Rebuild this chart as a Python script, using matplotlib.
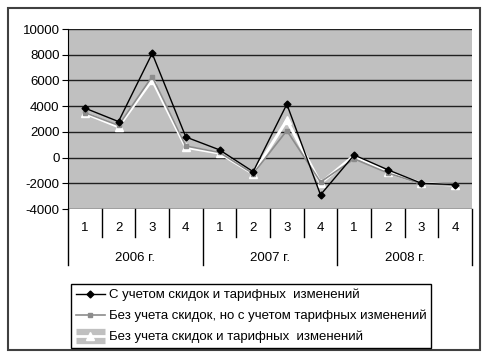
import numpy as np
import matplotlib.pyplot as plt
from matplotlib.patches import Rectangle
from matplotlib.lines import Line2D
import matplotlib.transforms as mtransforms

plt.rcParams['font.family'] = ['Liberation Sans', 'DejaVu Sans']

quarters = ['1', '2', '3', '4'] * 3
years = ['2006 г.', '2007 г.', '2008 г.']
s_full = [3850, 2800, 8100, 1600, 600, -1100, 4150, -2900, 200, -950, -2000, -2100]
s_tariff = [3500, 2500, 6300, 900, 400, -1250, 2100, -1900, -100, -1200, -2050, -2150]
s_none = [3450, 2400, 6050, 800, 350, -1250, 2900, -2000, 150, -1150, -2000, -2150]
labels = ['С учетом скидок и тарифных  изменений',
          'Без учета скидок, но с учетом тарифных изменений',
          'Без учета скидок и тарифных  изменений']

fig = plt.figure(figsize=(4.88, 3.63), dpi=100)
fig.patch.set_facecolor('white')
ax = fig.add_axes([68/488, 1-209/363, 404/488, 180/363])
ax.set_facecolor('#c0c0c0')

x = np.arange(len(s_full))
ax.plot(x, s_none, color='white', lw=2.2, marker='^', ms=6, mfc='white', mec='white', zorder=3)
ax.plot(x, s_tariff, color='#8c8c8c', lw=1.2, marker='s', ms=3, mfc='#8c8c8c', mec='#8c8c8c', zorder=4)
ax.plot(x, s_full, color='black', lw=1.0, marker='D', ms=3.5, mfc='black', zorder=5)

ax.set_xlim(-0.5, 11.5)
ax.set_ylim(-4000, 10000)
ax.set_yticks(np.arange(-4000, 10001, 2000))
ax.set_yticklabels([str(v) for v in range(-4000, 10001, 2000)])
ax.yaxis.grid(True, color='#202020', lw=1.0)
ax.set_axisbelow(True)
ax.set_xticks([])
ax.tick_params(axis='y', length=4, labelsize=9.5, pad=2)
for sp in ['top', 'right']:
    ax.spines[sp].set_visible(False)
ax.spines['left'].set_color('black')
ax.spines['bottom'].set_visible(False)

trans = mtransforms.blended_transform_factory(ax.transData, ax.transAxes)
for i in range(13):
    b = i - 0.5
    low = -0.31 if i % 4 == 0 else -0.155
    ax.plot([b, b], [0, low], color='black', lw=1.0, transform=trans, clip_on=False)
for i, q in enumerate(quarters):
    ax.text(i, -0.105, q, transform=trans, ha='center', va='center', fontsize=9.5)
for j, y in enumerate(years):
    ax.text(4*j + 1.5, -0.27, y, transform=trans, ha='center', va='center', fontsize=9.5)

handles = [
    Line2D([], [], color='black', lw=1.0, marker='D', ms=3.5),
    Line2D([], [], color='#8c8c8c', lw=1.2, marker='s', ms=3),
    (Line2D([], [], color='#c0c0c0', lw=11, solid_capstyle='butt'),
     Line2D([], [], color='white', lw=2, marker='^', ms=6, mfc='white', mec='white')),
]
leg = fig.legend(handles, labels, loc='lower left', bbox_to_anchor=(71/488, 15/363),
                 fontsize=9.5, frameon=True, fancybox=False, edgecolor='black',
                 framealpha=1, handlelength=2.2, borderpad=0.35, labelspacing=0.65,
                 handletextpad=0.3, borderaxespad=0)
leg.get_frame().set_linewidth(1.0)

fig.patches.append(Rectangle((8/488, 1-350/363), 472/488, 342/363, transform=fig.transFigure,
                             fill=False, edgecolor='#404040', lw=1.5))

plt.savefig('out.png', dpi=100)
